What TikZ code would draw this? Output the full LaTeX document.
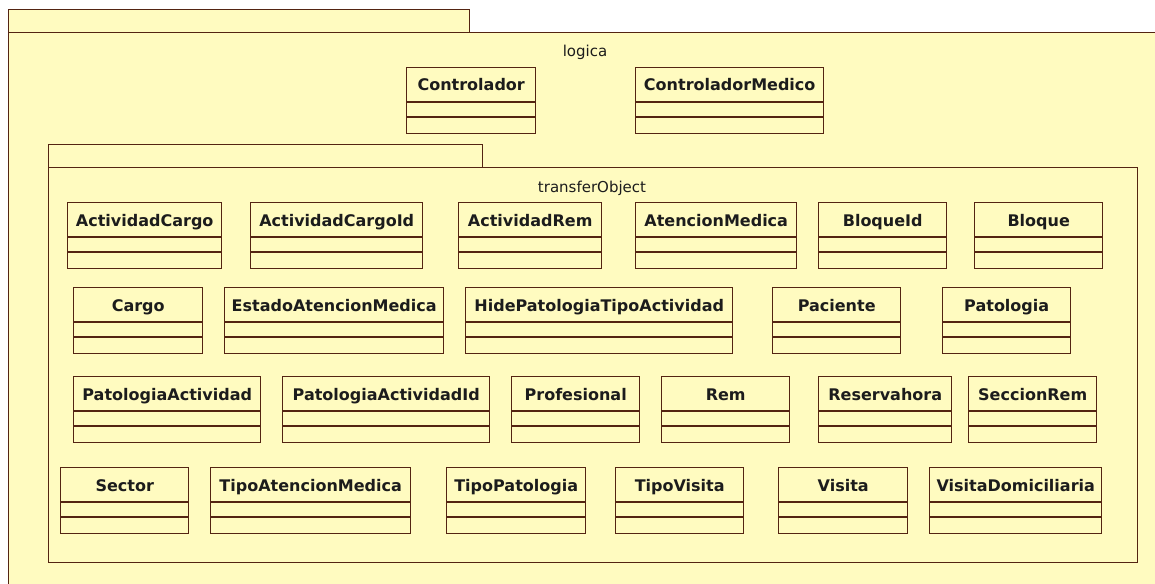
\documentclass[tikz,border=0pt]{standalone}
\usepackage{fontspec}
\setmainfont{DejaVu Sans}
\usetikzlibrary{calc}

\definecolor{pkgfill}{RGB}{255,251,192}
\definecolor{umlline}{RGB}{84,36,18}
\definecolor{umltext}{RGB}{28,28,28}

\tikzset{
  umlrule/.style={draw=umlline, line width=1.3pt},
  pkgpart/.style={rectangle, draw=umlline, line width=1.3pt, fill=pkgfill,
    inner sep=0pt, anchor=north west},
  classbox/.style={rectangle, draw=umlline, line width=1.4pt, fill=pkgfill,
    minimum height=66pt, inner sep=0pt, anchor=north west},
  classname/.style={font=\bfseries\fontsize{16}{19}\selectfont, text=umltext,
    inner sep=0pt, anchor=base},
  pkgname/.style={font=\fontsize{15}{18}\selectfont, text=umltext,
    inner sep=0pt, anchor=base},
}

% UML class with name, attribute and operation compartments:
% #1 node name, #2 left x, #3 right x, #4 top y, #5 class name
\newcommand\umlclass[5]{%
  \node[classbox, minimum width={(#3-#2)*1pt}] (#1) at (#2,#4) {};
  \node[classname] (#1-name) at ($(#1.north)+(0,24)$) {#5};
  \draw[umlrule] ($(#1.north west)+(0,35)$) -- ($(#1.north east)+(0,35)$);
  \draw[umlrule] ($(#1.north west)+(0,50)$) -- ($(#1.north east)+(0,50)$);
}

% UML package: #1 node name, #2 left x, #3 top y, #4 tab right x,
% #5 body right x, #6 body bottom y
\newcommand\umlpackage[6]{%
  \node[pkgpart, minimum width={(#5-#2)*1pt}, minimum height={(#6-#3-23)*1pt}]
    (#1-body) at (#2,#3+23) {};
  \node[pkgpart, minimum width={(#4-#2)*1pt}, minimum height=23pt]
    (#1-tab) at (#2,#3) {};
}

\begin{document}
\begin{tikzpicture}[x=1pt,y=-1pt]
\useasboundingbox[fill=white] (0,0) rectangle (1155,583);
\clip (0,0) rectangle (1155,583);

% package logica
\umlpackage{logica}{8}{9}{469}{1162}{620}
\node[pkgname] (logica-label) at (585,57) {logica};

\umlclass{controlador}{406}{535}{67}{Controlador}
\umlclass{controladorMedico}{635}{823}{67}{ControladorMedico}

% package transferObject
\umlpackage{transfer}{48}{144}{482}{1137}{562}
\node[pkgname] (transfer-label) at (592,192) {transferObject};

% first row
\umlclass{actividadCargo}{67}{221}{202}{ActividadCargo}
\umlclass{actividadCargoId}{250}{422}{202}{ActividadCargoId}
\umlclass{actividadRem}{458}{601}{202}{ActividadRem}
\umlclass{atencionMedica}{635}{796}{202}{AtencionMedica}
\umlclass{bloqueId}{818}{946}{202}{BloqueId}
\umlclass{bloque}{974}{1102}{202}{Bloque}

% second row
\umlclass{cargo}{73}{202}{287}{Cargo}
\umlclass{estadoAtencion}{224}{443}{287}{EstadoAtencionMedica}
\umlclass{hidePatologia}{465}{732}{287}{HidePatologiaTipoActividad}
\umlclass{paciente}{772}{900}{287}{Paciente}
\umlclass{patologia}{942}{1070}{287}{Patologia}

% third row
\umlclass{patologiaActividad}{73}{260}{376}{PatologiaActividad}
\umlclass{patologiaActividadId}{282}{489}{376}{PatologiaActividadId}
\umlclass{profesional}{511}{639}{376}{Profesional}
\umlclass{rem}{661}{789}{376}{Rem}
\umlclass{reservahora}{818}{951}{376}{Reservahora}
\umlclass{seccionRem}{968}{1096}{376}{SeccionRem}

% fourth row
\umlclass{sector}{60}{188}{467}{Sector}
\umlclass{tipoAtencion}{210}{410}{467}{TipoAtencionMedica}
\umlclass{tipoPatologia}{446}{585}{467}{TipoPatologia}
\umlclass{tipoVisita}{615}{743}{467}{TipoVisita}
\umlclass{visita}{778}{907}{467}{Visita}
\umlclass{visitaDomiciliaria}{929}{1101}{467}{VisitaDomiciliaria}
\end{tikzpicture}
\end{document}
